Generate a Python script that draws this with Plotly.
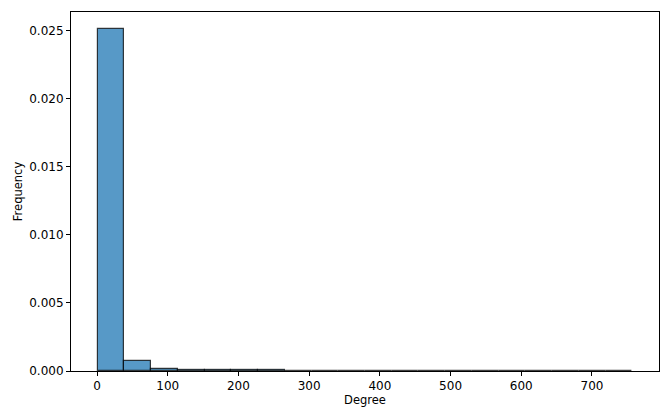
import numpy as np
import plotly.graph_objects as go

# Degree histogram (density), 20 equal bins between min and max degree
degree_min = 1
degree_max = 757
n_bins = 20
density = [0.02512, 0.00074, 0.00018, 0.00010, 0.00007, 0.00004, 0.00008,
           0.00001, 0.00001, 0.000005, 0.00001, 0.0, 0.000005, 0.00001,
           0.0, 0.000005, 0.00001, 0.0, 0.0, 0.000005]

edges = np.linspace(degree_min, degree_max, n_bins + 1)
centers = (edges[:-1] + edges[1:]) / 2
bin_width = edges[1] - edges[0]

fig = go.Figure(
    go.Bar(
        x=centers,
        y=density,
        width=bin_width,
        marker=dict(color="rgba(31,119,180,0.75)",
                    line=dict(color="rgba(0,0,0,0.75)", width=1.2)),
        showlegend=False,
    )
)

span = degree_max - degree_min
axis_style = dict(
    showline=True, mirror=True, linecolor="black", linewidth=1,
    ticks="outside", ticklen=4, tickcolor="black", showgrid=False,
    zeroline=False, tickfont=dict(size=12, color="black"), automargin=False,
)

fig.update_layout(
    width=672, height=420,
    margin=dict(l=71, r=13, t=12, b=49),
    paper_bgcolor="white", plot_bgcolor="white",
    font=dict(family="DejaVu Sans", color="black"),
    bargap=0,
    xaxis=dict(title=dict(text="Degree", font=dict(size=11.5), standoff=1),
               range=[degree_min - 0.05 * span, degree_max + 0.05 * span],
               tickvals=[0, 100, 200, 300, 400, 500, 600, 700], **axis_style),
    yaxis=dict(title=dict(text="Frequency", font=dict(size=11.5), standoff=4),
               range=[0, max(density) * 1.05],
               tickvals=[0, 0.005, 0.010, 0.015, 0.020, 0.025],
               tickformat=".3f", **axis_style),
)

# drop the browser's default 8px body margin so the figure sits at (0, 0)
fig.write_html("out.html", config={"displayModeBar": False},
               post_script="document.body.style.margin='0';document.documentElement.style.overflow='hidden';")
